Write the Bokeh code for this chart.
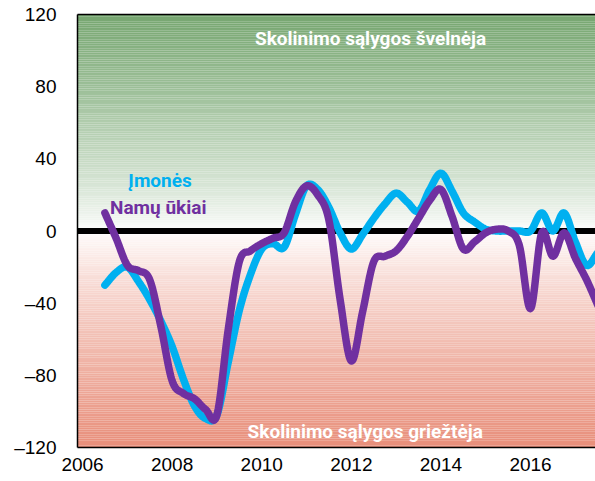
import numpy as np
from bokeh.plotting import figure
from bokeh.models import Span, Label, FixedTicker, LinearAxis, Range1d
from bokeh.embed import file_html
from bokeh.resources import INLINE

# ---- data (quarterly, from 2006 Q3 to 2017 Q3) ----
first_year, first_q = 2006, 3
n_points = 45
periods = []
y, q = first_year, first_q
for _ in range(n_points):
    periods.append((y, q))
    q += 1
    if q > 4:
        q, y = 1, y + 1
x_vals = [yy + (qq - 1) * 0.25 for yy, qq in periods]

imones = [-30, -23, -20, -28, -38, -50, -64, -82, -97, -104, -102, -73, -44, -24,
          -10, -7, -9, 9, 25, 23, 13, -1, -10, -2, 7, 15, 21, 16, 11, 23, 32, 22,
          10, 5, 1, 0, 0, 0, 0, 10, 0, 10, -6, -19, -12]
namu_ukiai = [10, -4, -19, -22, -27, -53, -83, -90, -93, -99, -102, -55, -17, -11,
              -7, -4, -1, 16, 25, 20, 6, -38, -72, -45, -17, -14, -11, -3, 7, 17,
              23, 8, -10, -6, -1, 1, 0, -8, -43, -1, -14, -1, -15, -27, -41]

x_ticks = [2006, 2008, 2010, 2012, 2014, 2016]
y_ticks = [-120, -80, -40, 0, 40, 80, 120]
y_tick_labels = ["\u2013120", "\u201380", "\u201340", "0", "40", "80", "120"]

series_names = ["\u012emon\u0117s", "Nam\u0173 \u016bkiai"]
zone_top = "Skolinimo s\u0105lygos \u0161veln\u0117ja"
zone_bottom = "Skolinimo s\u0105lygos grie\u017et\u0117ja"

CYAN = "#00b0f0"
PURPLE = "#7030a0"
GREEN = (118, 166, 112)
SALMON = (232, 142, 122)


def smooth(xs, ys, n=16):
    xs = np.asarray(xs, float)
    ys = np.asarray(ys, float)
    px = np.concatenate([[2 * xs[0] - xs[1]], xs, [2 * xs[-1] - xs[-2]]])
    py = np.concatenate([[2 * ys[0] - ys[1]], ys, [2 * ys[-1] - ys[-2]]])
    ox, oy = [], []
    for i in range(1, len(px) - 2):
        t = np.linspace(0, 1, n, endpoint=False)
        t2, t3 = t * t, t * t * t
        for arr, out in ((px, ox), (py, oy)):
            p0, p1, p2, p3 = arr[i - 1], arr[i], arr[i + 1], arr[i + 2]
            out.extend(0.5 * (2 * p1 + (-p0 + p2) * t + (2 * p0 - 5 * p1 + 4 * p2 - p3) * t2
                              + (-p0 + 3 * p1 - 3 * p2 + p3) * t3))
    ox.append(xs[-1])
    oy.append(ys[-1])
    return ox, oy


p = figure(width=595, height=481, output_backend="svg", toolbar_location=None,
           x_range=Range1d(2005.888, 2017.45), y_range=Range1d(-120, 120),
           min_border_left=77, min_border_right=0, min_border_top=14, min_border_bottom=34)
p.outline_line_color = None
p.background_fill_color = "white"
p.border_fill_color = "white"
p.xgrid.visible = False
p.ygrid.visible = False

# background gradient bands
edges = np.linspace(-120, 120, 241)
bottoms, tops, colors = [], [], []
for lo, hi in zip(edges[:-1], edges[1:]):
    mid = 0.5 * (lo + hi)
    f = (abs(mid) / 120.0) ** 0.8
    base = GREEN if mid > 0 else SALMON
    c = tuple(int(round(255 + (b - 255) * f)) for b in base)
    bottoms.append(lo)
    tops.append(hi)
    colors.append("#%02x%02x%02x" % c)
p.quad(left=2005.0, right=2019.0, bottom=bottoms, top=tops, fill_color=colors,
       line_color=None, level="image")

p.add_layout(Span(location=0, dimension="width", line_color="black", line_width=6,
                  level="underlay"))

cx, cy = smooth(x_vals, imones)
p.line(cx, cy, line_color=CYAN, line_width=7.5, line_cap="round", line_join="round")
nx, ny = smooth(x_vals, namu_ukiai)
p.line(nx, ny, line_color=PURPLE, line_width=7.5, line_cap="round", line_join="round")

AX_FONT = "Liberation Sans Narrow, Liberation Sans"

yax = p.yaxis[0]
yax.ticker = FixedTicker(ticks=y_ticks)
yax.major_label_overrides = {t: l for t, l in zip(y_ticks, y_tick_labels)}
yax.major_tick_line_color = None
yax.minor_tick_line_color = None
yax.major_label_standoff = 15
yax.major_label_text_font = AX_FONT
yax.major_label_text_font_size = "19px"
yax.major_label_text_color = "black"
yax.axis_line_color = "black"
yax.axis_line_width = 1.5

xax = p.xaxis[0]
xax.ticker = FixedTicker(ticks=x_ticks)
xax.major_tick_line_color = None
xax.minor_tick_line_color = None
xax.major_label_standoff = 4
xax.major_label_text_font = AX_FONT
xax.major_label_text_font_size = "19px"
xax.major_label_text_color = "black"
xax.axis_line_color = "black"
xax.axis_line_width = 1.5

top_ax = LinearAxis(ticker=FixedTicker(ticks=[]), major_tick_line_color=None,
                    minor_tick_line_color=None, major_label_text_font_size="0px",
                    axis_line_color="black", axis_line_width=1.5,
                    major_label_standoff=0)
p.add_layout(top_ax, "above")

LBL = dict(text_font="Roboto", text_font_style="bold", text_font_size="19px",
           text_align="center", text_baseline="middle")
p.add_layout(Label(x=2012.43, y=106.7, text=zone_top, text_color="white", **LBL))
p.add_layout(Label(x=2012.31, y=-111, text=zone_bottom, text_color="white", **LBL))
p.add_layout(Label(x=2007.73, y=28, text=series_names[0], text_color=CYAN, **LBL))
p.add_layout(Label(x=2007.69, y=13.3, text=series_names[1], text_color=PURPLE, **LBL))

open("out.html", "w").write(file_html(p, INLINE))
